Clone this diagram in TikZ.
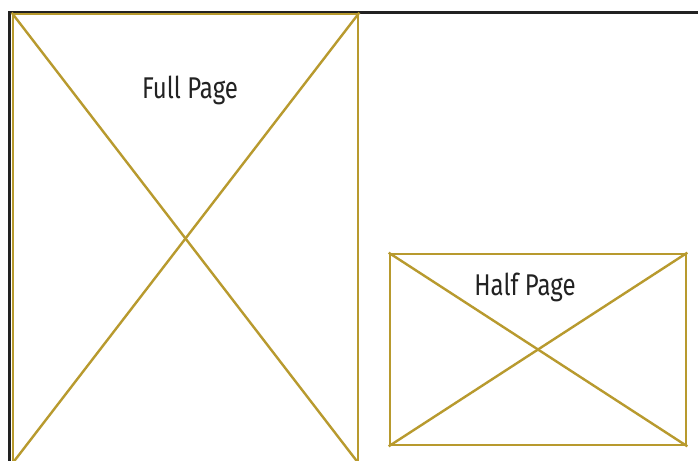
\documentclass[tikz,border=0pt]{standalone}
\usepackage{fontspec}
\newfontfamily\labelfont[FakeStretch=0.8]{Fira Sans}
\usepackage{tikz}
\definecolor{AdGold}{HTML}{B89A2E}
\definecolor{AdInk}{HTML}{222222}
\tikzset{
  adbox/.style={draw=AdGold,line width=2.6pt,inner sep=0pt,minimum width=#1},
  cross/.style={draw=AdGold,line width=2.4pt},
  adlabel/.style={font=\labelfont\fontsize{30}{32}\selectfont,text=AdInk,inner sep=0pt},
  frame/.style={draw=AdInk,line width=2.4pt}
}

\begin{document}
\begin{tikzpicture}[x=1pt,y=-1pt]
  \useasboundingbox (0,0) rectangle (698,460);
  \clip (0,0) rectangle (698,460);
  \fill[white] (0,0) rectangle (698,460);
  % page frame
  \coordinate (topright) at (698,12.5);
  \coordinate (corner) at (9.5,12.5);
  \coordinate (bottomleft) at (9.5,462);
  \draw[frame] (topright) -- (corner) -- (bottomleft);
  % full page ad
  \node[adbox=345pt,minimum height=449pt] (full) at (185.5,238.5) {};
  \draw[cross] (full.north west) -- (full.south east);
  \draw[cross] (full.north east) -- (full.south west);
  \node[adlabel] (fulltext) at (190,90) {Full Page};
  % half page ad
  \node[adbox=296pt,minimum height=191pt] (half) at (538,349.5) {};
  \draw[cross] (half.north west) -- (half.south east);
  \draw[cross] (half.north east) -- (half.south west);
  \node[adlabel] (halftext) at (525,287) {Half Page};
\end{tikzpicture}
\end{document}
